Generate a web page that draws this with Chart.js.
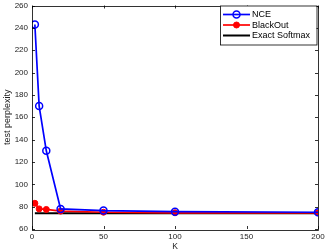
<!DOCTYPE html>
<html>
<head>
<meta charset="utf-8">
<script src="https://cdn.jsdelivr.net/npm/chart.js@4"></script>
<style>
  html, body { margin: 0; padding: 0; background: #fff; }
  canvas { display: block; }
</style>
</head>
<body>
<canvas id="chart" width="325" height="251"></canvas>
<script>
const kValues = [2, 5, 10, 20, 50, 100, 200];
const nceValues = [243, 170, 130, 78, 76.5, 75.5, 75];
const blackoutValues = [83, 78, 77.5, 76, 75, 74.5, 74.5];
const softmaxK = [2, 200];
const softmaxValues = [74, 74];
const xTicks = [0, 50, 100, 150, 200];
const yTicks = [60, 80, 100, 120, 140, 160, 180, 200, 220, 240, 260];

const FONT = "Liberation Sans, Arial, Helvetica, sans-serif";

const toPoints = (xs, ys) => xs.map((x, i) => ({ x: x, y: ys[i] }));

// matlab-style inward ticks, frame and boxed legend
const matlabFrame = {
  id: "matlabFrame",
  afterDatasetsDraw(chart) {
    const { ctx, chartArea: a, scales } = chart;
    ctx.save();
    ctx.strokeStyle = "#000";
    ctx.lineWidth = 0.8;
    ctx.beginPath();
    xTicks.forEach(v => {
      const px = Math.round(scales.x.getPixelForValue(v)) + 0.5;
      ctx.moveTo(px, a.bottom); ctx.lineTo(px, a.bottom - 3);
      ctx.moveTo(px, a.top); ctx.lineTo(px, a.top + 3);
    });
    yTicks.forEach(v => {
      const py = Math.round(scales.y.getPixelForValue(v)) + 0.5;
      ctx.moveTo(a.left, py); ctx.lineTo(a.left + 3, py);
      ctx.moveTo(a.right, py); ctx.lineTo(a.right - 3, py);
    });
    ctx.stroke();
    ctx.strokeRect(Math.round(a.left) + 0.5, Math.round(a.top) + 0.5,
      Math.round(a.right - a.left), Math.round(a.bottom - a.top));

    // legend
    const lx = 220, ly = a.top + 0.5, lw = a.right - 220 - 1.5, lh = 39;
    ctx.fillStyle = "#fff";
    ctx.fillRect(lx, ly, lw, lh);
    ctx.strokeRect(lx + 0.5, ly, lw, lh);
    const items = chart.data.datasets;
    ctx.font = "9px " + FONT;
    ctx.textBaseline = "middle";
    items.forEach((ds, i) => {
      const y = 14.5 + i * 10.5;
      ctx.strokeStyle = ds.borderColor;
      ctx.lineWidth = ds.borderWidth;
      ctx.beginPath();
      ctx.moveTo(223, y); ctx.lineTo(250, y);
      ctx.stroke();
      if (ds.pointRadius > 0) {
        ctx.beginPath();
        ctx.arc(236.5, y, ds.pointRadius, 0, Math.PI * 2);
        ctx.fillStyle = ds.pointBackgroundColor;
        ctx.fill();
        ctx.lineWidth = ds.pointBorderWidth;
        ctx.strokeStyle = ds.pointBorderColor;
        ctx.stroke();
      }
      ctx.fillStyle = "#000";
      ctx.fillText(ds.label, 252, y + 0.5);
    });
    ctx.restore();
  }
};

new Chart(document.getElementById("chart"), {
  type: "line",
  data: {
    datasets: [
      {
        label: "NCE",
        data: toPoints(kValues, nceValues),
        borderColor: "#0000ff",
        borderWidth: 1.7,
        pointRadius: 3.5,
        pointBackgroundColor: "rgba(255,255,255,0)",
        pointBorderColor: "#0000ff",
        pointBorderWidth: 1.5,
        order: 1
      },
      {
        label: "BlackOut",
        data: toPoints(kValues, blackoutValues),
        borderColor: "#ff0000",
        borderWidth: 1.7,
        pointRadius: 3,
        pointBackgroundColor: "#ff0000",
        pointBorderColor: "#ff0000",
        pointBorderWidth: 1,
        order: 2
      },
      {
        label: "Exact Softmax",
        data: toPoints(softmaxK, softmaxValues),
        borderColor: "#000000",
        borderWidth: 2,
        pointRadius: 0,
        order: 3
      }
    ]
  },
  options: {
    responsive: false,
    animation: false,
    layout: { padding: { top: 3, right: 7, left: 0, bottom: 0 } },
    plugins: { legend: { display: false }, tooltip: { enabled: false } },
    scales: {
      x: {
        type: "linear",
        min: 0,
        max: 200,
        afterBuildTicks: s => { s.ticks = xTicks.map(v => ({ value: v })); },
        afterFit: s => { s.height = 22; s.paddingLeft = 0; s.paddingRight = 0; },
        grid: { display: false, drawTicks: false, tickLength: 0 },
        border: { display: false },
        ticks: { color: "#222", font: { family: FONT, size: 8 }, padding: 3, maxRotation: 0 },
        title: { display: true, text: "K", color: "#222", font: { family: FONT, size: 8.5 }, padding: { top: 0, bottom: -1 } }
      },
      y: {
        min: 60,
        max: 260,
        afterBuildTicks: s => { s.ticks = yTicks.map(v => ({ value: v })); },
        afterFit: s => { s.width = 32; s.paddingTop = 0; s.paddingBottom = 0; },
        grid: { display: false, drawTicks: false, tickLength: 0 },
        border: { display: false },
        ticks: { color: "#222", font: { family: FONT, size: 8 }, padding: 4 },
        title: { display: true, text: "test perplexity", color: "#222", font: { family: FONT, size: 9 }, padding: { top: 2, bottom: 0 } }
      }
    }
  },
  plugins: [matlabFrame]
});
</script>
</body>
</html>
